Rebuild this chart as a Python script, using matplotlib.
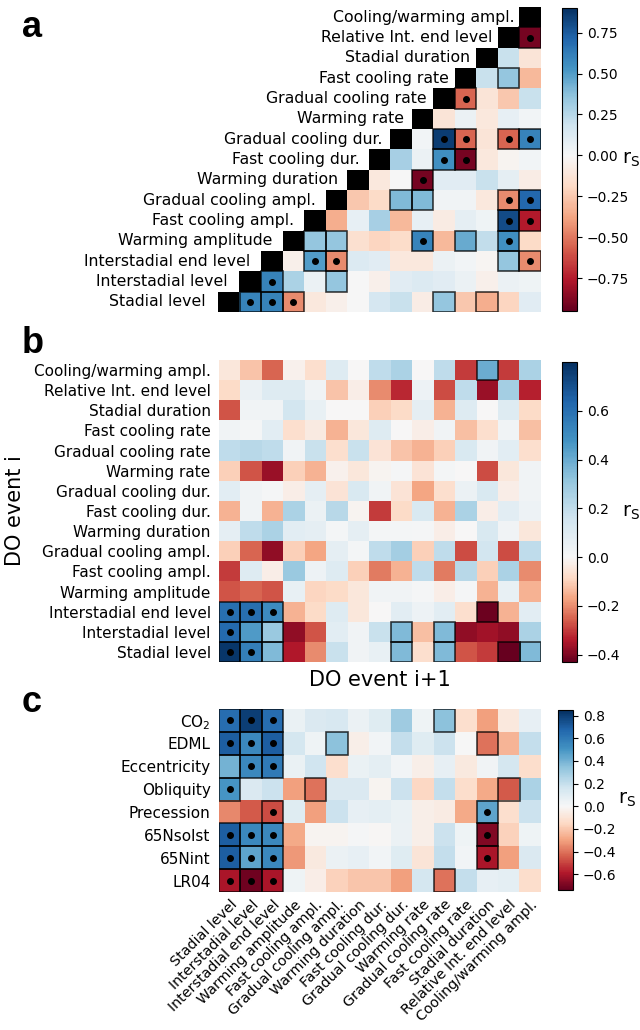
import numpy as np
import matplotlib
matplotlib.use('Agg')
import matplotlib.pyplot as plt
from matplotlib.colors import ListedColormap, Normalize
from matplotlib.patches import Rectangle

# Variable names (column order, and row order from the bottom in a/b)
names = ['Stadial level', 'Interstadial level', 'Interstadial end level',
         'Warming amplitude', 'Fast cooling ampl.', 'Gradual cooling ampl.',
         'Warming duration', 'Fast cooling dur.', 'Gradual cooling dur.',
         'Warming rate', 'Gradual cooling rate', 'Fast cooling rate',
         'Stadial duration', 'Relative Int. end level', 'Cooling/warming ampl.']

forcings = ['CO$_2$', 'EDML', 'Eccentricity', 'Obliquity', 'Precession',
            '65Nsolst', '65Nint', 'LR04']

# Panel a: row i (from bottom), values for columns j > i
a_vals = [
    [0.6, 0.6, -0.45, -0.1, -0.05, 0.0, 0.15, 0.2, -0.07, 0.35, -0.25, -0.35, -0.2, 0.1],
    [0.6, 0.28, 0.05, 0.35, 0.0, -0.05, 0.1, 0.12, 0.1, 0.05, -0.05, 0.05, 0.04],
    [-0.05, 0.5, -0.45, 0.12, 0.1, -0.1, -0.1, 0.05, 0.02, -0.02, 0.35, -0.45],
    [0.35, 0.35, -0.15, -0.2, -0.17, 0.6, -0.3, 0.45, 0.22, 0.55, -0.18],
    [-0.35, 0.07, 0.3, -0.3, 0.07, -0.08, 0.08, 0.04, 0.8, -0.75],
    [-0.25, -0.18, 0.4, 0.4, 0.03, 0.03, -0.1, -0.45, 0.7],
    [-0.1, 0.0, -0.9, 0.1, 0.1, 0.2, 0.08, -0.07],
    [0.3, 0.05, 0.55, -0.9, -0.1, -0.03, 0.02],
    [0.02, 0.85, -0.55, -0.12, -0.55, 0.6],
    [-0.12, 0.05, -0.1, 0.07, 0.02],
    [-0.55, -0.12, -0.25, 0.2],
    [0.2, 0.35, -0.3],
    [0.2, -0.12],
    [-0.9],
]
# significance: 1 = boxed, 2 = boxed with dot
a_sig = [
    [2, 2, 2, 0, 0, 0, 0, 0, 0, 1, 0, 1, 0, 0],
    [2, 0, 0, 1, 0, 0, 0, 0, 0, 0, 0, 0, 0],
    [0, 2, 2, 0, 0, 0, 0, 0, 0, 0, 1, 2],
    [1, 1, 0, 0, 0, 2, 0, 1, 0, 2, 0],
    [0, 0, 0, 0, 0, 0, 0, 0, 2, 2],
    [0, 0, 1, 1, 0, 0, 0, 2, 2],
    [0, 0, 2, 0, 0, 0, 0, 0],
    [0, 0, 2, 2, 0, 0, 0],
    [0, 2, 2, 0, 2, 2],
    [0, 0, 0, 0, 0],
    [2, 0, 0, 0],
    [0, 1, 0],
    [0, 0],
    [2],
]

# Panel b: rows from top (Cooling/warming ampl.) to bottom (Stadial level)
b_vals = [
    [-0.05, -0.12, -0.25, -0.02, -0.07, 0.1, 0.0, 0.2, 0.25, 0.0, 0.2, -0.3, 0.4, -0.3, 0.25],
    [-0.08, 0.05, 0.1, 0.1, 0.03, -0.12, -0.03, -0.2, -0.32, 0.04, -0.28, 0.2, -0.37, 0.27, -0.33],
    [-0.27, 0.03, 0.03, 0.15, 0.06, 0.0, 0.0, -0.1, -0.08, 0.07, -0.15, 0.1, 0.0, 0.1, -0.08],
    [0.03, 0.02, 0.08, -0.07, -0.04, -0.15, -0.05, 0.1, 0.0, -0.03, 0.03, -0.13, -0.07, 0.03, -0.13],
    [0.2, 0.22, 0.2, 0.03, 0.18, -0.07, 0.18, -0.06, -0.12, -0.15, -0.1, 0.12, 0.03, 0.08, -0.07],
    [-0.1, -0.27, -0.37, -0.1, -0.15, -0.02, -0.05, -0.01, 0.01, -0.06, 0.02, 0.0, -0.28, -0.05, 0.03],
    [0.08, 0.03, 0.01, -0.03, 0.07, -0.06, 0.12, 0.03, -0.06, -0.17, -0.07, 0.05, 0.12, -0.03, 0.03],
    [-0.15, 0.03, -0.15, 0.25, 0.05, 0.22, -0.01, -0.3, -0.08, 0.12, -0.15, 0.25, -0.03, 0.08, 0.04],
    [0.07, 0.2, 0.25, 0.08, 0.07, 0.02, 0.07, 0.02, 0.02, 0.01, -0.03, 0.0, 0.12, 0.03, -0.05],
    [-0.1, -0.25, -0.38, -0.1, -0.17, 0.07, 0.02, 0.2, 0.27, -0.1, 0.2, -0.28, 0.15, -0.28, 0.2],
    [-0.3, 0.1, -0.03, 0.3, 0.04, 0.1, -0.1, -0.22, -0.15, 0.2, -0.22, 0.22, -0.1, 0.25, -0.2],
    [-0.27, -0.25, -0.27, 0.06, -0.09, -0.08, -0.05, 0.03, 0.03, 0.01, -0.03, 0.01, -0.15, 0.06, -0.15],
    [0.6, 0.6, 0.5, -0.15, -0.08, 0.1, -0.05, 0.0, 0.08, 0.04, 0.08, -0.07, -0.42, -0.15, 0.08],
    [0.62, 0.45, 0.3, -0.38, -0.27, 0.08, 0.03, 0.18, 0.35, -0.13, 0.35, -0.38, -0.36, -0.38, 0.25],
    [0.78, 0.55, 0.35, -0.34, -0.2, 0.18, 0.03, 0.06, 0.35, -0.07, 0.35, -0.27, -0.3, -0.43, 0.35],
]
b_sig = [
    [0, 0, 0, 0, 0, 0, 0, 0, 0, 0, 0, 0, 1, 0, 0],
    [0] * 15, [0] * 15, [0] * 15, [0] * 15, [0] * 15, [0] * 15,
    [0] * 15, [0] * 15, [0] * 15, [0] * 15, [0] * 15,
    [2, 2, 2, 0, 0, 0, 0, 0, 0, 0, 0, 0, 1, 0, 0],
    [2, 1, 1, 0, 0, 0, 0, 0, 1, 0, 1, 0, 0, 0, 0],
    [2, 2, 1, 0, 0, 0, 0, 0, 1, 0, 1, 0, 0, 1, 1],
]

# Panel c: forcings (rows) vs DO event properties (columns)
c_vals = [
    [0.65, 0.8, 0.65, 0.06, 0.12, 0.13, 0.05, 0.1, 0.3, 0.04, 0.35, -0.12, -0.3, -0.08, 0.07],
    [0.7, 0.55, 0.7, 0.15, 0.04, 0.35, -0.04, 0.02, 0.2, 0.1, 0.18, 0.0, -0.4, -0.25, 0.2],
    [0.4, 0.55, 0.6, 0.06, 0.17, -0.12, 0.06, 0.08, 0.02, -0.04, 0.07, -0.07, 0.03, 0.15, -0.13],
    [0.5, 0.12, 0.18, -0.3, -0.4, 0.12, 0.12, -0.02, 0.18, -0.15, 0.2, -0.13, -0.28, -0.45, 0.27],
    [-0.35, -0.45, -0.48, 0.1, -0.3, 0.18, 0.07, 0.08, 0.06, -0.04, -0.06, -0.28, 0.45, -0.12, 0.18],
    [0.7, 0.55, 0.55, -0.28, -0.02, -0.02, 0.01, -0.01, 0.05, -0.04, 0.18, 0.04, -0.68, -0.17, 0.04],
    [0.7, 0.45, 0.55, -0.32, -0.07, 0.05, 0.07, 0.02, 0.1, -0.1, 0.2, 0.02, -0.6, -0.3, 0.12],
    [-0.6, -0.72, -0.6, 0.04, -0.05, -0.17, -0.2, -0.2, -0.3, 0.15, -0.4, 0.2, 0.07, 0.08, -0.13],
]
c_sig = [
    [2, 2, 2, 0, 0, 0, 0, 0, 0, 0, 1, 0, 0, 0, 0],
    [2, 2, 2, 0, 0, 1, 0, 0, 0, 0, 0, 0, 1, 0, 0],
    [1, 2, 2, 0, 0, 0, 0, 0, 0, 0, 0, 0, 0, 0, 0],
    [2, 0, 0, 0, 1, 0, 0, 0, 0, 0, 0, 0, 0, 1, 0],
    [0, 0, 2, 0, 0, 0, 0, 0, 0, 0, 0, 0, 2, 0, 0],
    [2, 2, 2, 0, 0, 0, 0, 0, 0, 0, 0, 0, 2, 0, 0],
    [2, 2, 2, 0, 0, 0, 0, 0, 0, 0, 0, 0, 2, 0, 0],
    [2, 2, 2, 0, 0, 0, 0, 0, 0, 0, 1, 0, 0, 0, 0],
]

# colour limits of the three colour bars
a_lim = (-0.95, 0.90)
b_lim = (-0.43, 0.80)
c_lim = (-0.74, 0.85)


def shifted_cmap(vmin, vmax):
    # RdBu with white pinned at zero, linear colour bar
    v = np.linspace(vmin, vmax, 256)
    pos = np.where(v < 0, 0.5 * (1 - v / vmin), 0.5 + 0.5 * v / vmax)
    return ListedColormap(plt.cm.RdBu(pos))


def mark(ax, sig, col0=None):
    # col0(r): column of the first entry in row r
    for r, row in enumerate(sig):
        start = col0(r) if col0 else 0
        for k, s in enumerate(row):
            if s == 0:
                continue
            j = start + k
            ax.add_patch(Rectangle((j - 0.5, r - 0.5), 1, 1, fill=False,
                                   ec='k', lw=1.2, alpha=0.75, zorder=3))
            if s == 2:
                ax.plot(j, r, 'o', color='k', ms=4, zorder=4)


def add_cbar(im, rect, ticks, fmt):
    cax = fig.add_axes(rect)
    cb = fig.colorbar(im, cax=cax, ticks=ticks)
    cb.ax.set_yticklabels([(fmt % t).replace('-', '\u2212') for t in ticks])
    cb.ax.tick_params(labelsize=10)
    cb.outline.set_linewidth(0.8)
    cb.ax.text(4.0, 0.5, r'$\mathrm{r_S}$', transform=cb.ax.transAxes,
               fontsize=14, va='center', ha='left')
    return cb


W, H = 640, 1030
fig = plt.figure(figsize=(W / 100, H / 100), dpi=100)


def rect(x0, y0, x1, y1):
    return [x0 / W, 1 - y1 / H, (x1 - x0) / W, (y1 - y0) / H]


n = len(names)
fs = 11

# ---------------- panel a ----------------
A = np.full((n, n), np.nan)
for i, row in enumerate(a_vals):
    A[i, i + 1:] = row
diag = np.where(np.eye(n) > 0, 1.0, np.nan)

axa = fig.add_axes(rect(218, 7, 541, 312))
ext = (-0.5, n - 0.5, -0.5, n - 0.5)
ima = axa.imshow(A, origin='lower', cmap=shifted_cmap(*a_lim),
                 norm=Normalize(*a_lim), aspect='auto', interpolation='nearest',
                 extent=ext)
axa.imshow(diag, origin='lower', cmap=ListedColormap(['black']), aspect='auto',
           interpolation='nearest', extent=ext)
mark(axa, a_sig, lambda r: r + 1)
for i, name in enumerate(names):
    axa.text(i - 0.5 - (0.56 - 0.0236 * i), i, name, ha='right', va='center',
             fontsize=11.3)
axa.set_xlim(-0.5, n - 0.5)
axa.set_ylim(-0.5, n - 0.5)
axa.axis('off')
add_cbar(ima, rect(562, 8, 577, 311), [-0.75, -0.5, -0.25, 0, 0.25, 0.5, 0.75], '%.2f')

# ---------------- panel b ----------------
axb = fig.add_axes(rect(219, 360, 541, 662))
imb = axb.imshow(np.array(b_vals), cmap=shifted_cmap(*b_lim), norm=Normalize(*b_lim),
                 aspect='auto', interpolation='nearest')
mark(axb, b_sig)
axb.set_yticks(range(n))
axb.set_yticklabels(names[::-1], fontsize=fs)
axb.set_xticks([])
axb.tick_params(length=0, pad=6)
for s in axb.spines.values():
    s.set_visible(False)
axb.set_ylabel('DO event i', fontsize=15, labelpad=6)
axb.set_xlabel('DO event i+1', fontsize=15, labelpad=6)
add_cbar(imb, rect(562, 362, 577, 662), [-0.4, -0.2, 0, 0.2, 0.4, 0.6], '%.1f')

# ---------------- panel c ----------------
axc = fig.add_axes(rect(219, 709, 541, 892))
imc = axc.imshow(np.array(c_vals), cmap=shifted_cmap(*c_lim), norm=Normalize(*c_lim),
                 aspect='auto', interpolation='nearest')
mark(axc, c_sig)
axc.set_yticks(range(len(forcings)))
axc.set_yticklabels(forcings, fontsize=fs)
axc.set_xticks(range(n))
axc.set_xticklabels(names, fontsize=10.3, rotation=45, ha='right',
                    rotation_mode='anchor')
axc.tick_params(axis='y', length=0, pad=6)
axc.tick_params(axis='x', length=0, pad=4)
for s in axc.spines.values():
    s.set_visible(False)
add_cbar(imc, rect(558, 710, 573, 890), [-0.6, -0.4, -0.2, 0, 0.2, 0.4, 0.6, 0.8], '%.1f')

# panel letters
for lab, yb in [('a', 37), ('b', 353), ('c', 712)]:
    fig.text(22 / W, 1 - yb / H, lab, fontsize=26, fontweight='bold',
             family='Liberation Sans', va='baseline')

fig.savefig('out.png', dpi=100)
